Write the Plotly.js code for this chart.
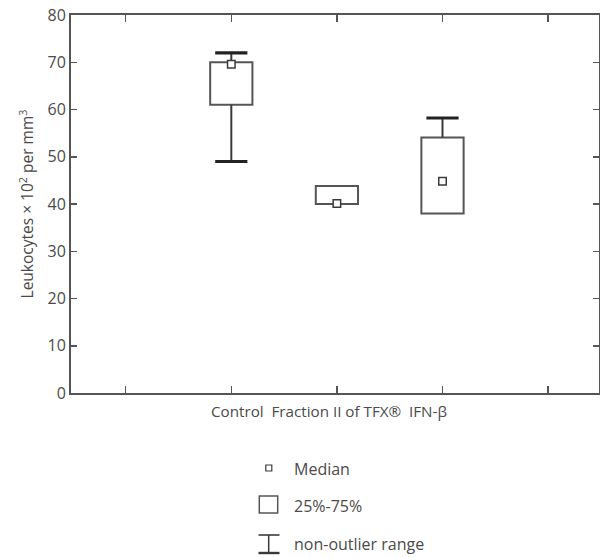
<!DOCTYPE html>
<html>
<head>
<meta charset="utf-8">
<script src="https://cdn.plot.ly/plotly-3.0.1.min.js"></script>
<style>html,body{margin:0;padding:0;background:#fff;}#chart{width:600px;height:558px;}</style>
</head>
<body>
<div id="chart"></div>
<script>
// ---- data ----
var categories = ['Control', 'Fraction II of TFX\u00ae', 'IFN-\u03b2'];
var q1Values = [61, 40, 38];
var medianValues = [69.6, 40.1, 44.8];
var q3Values = [70, 43.8, 54.1];
var lowerValues = [49, 40, 38];
var upperValues = [72, 43.8, 58.2];
var yTickValues = [0, 10, 20, 30, 40, 50, 60, 70, 80];
var legendLabels = ['Median', '25%-75%', 'non-outlier range'];

// ---- build traces ----
var xPos = categories.map(function (c, i) { return i + 1; });
var dark = '#3a3a3a';
var boxColor = '#555555';

var boxTrace = {
  type: 'bar', x: xPos,
  base: q1Values,
  y: q3Values.map(function (v, i) { return v - q1Values[i]; }),
  width: 0.4,
  marker: { color: '#ffffff', line: { color: boxColor, width: 2 } },
  hoverinfo: 'skip', showlegend: false
};

var wx = [], wy = [], cx = [], cy = [];
xPos.forEach(function (x, i) {
  if (upperValues[i] > q3Values[i]) {
    wx.push(x, x, null); wy.push(q3Values[i], upperValues[i], null);
    cx.push(x); cy.push(upperValues[i]);
  }
  if (lowerValues[i] < q1Values[i]) {
    wx.push(x, x, null); wy.push(q1Values[i], lowerValues[i], null);
    cx.push(x); cy.push(lowerValues[i]);
  }
});
var whiskerTrace = {
  type: 'scatter', mode: 'lines', x: wx, y: wy,
  line: { color: dark, width: 2 }, hoverinfo: 'skip', showlegend: false, cliponaxis: false
};
var capTrace = {
  type: 'scatter', mode: 'markers', x: cx, y: cy,
  marker: { symbol: 'line-ew', size: 23, line: { color: '#222', width: 3.2 } },
  hoverinfo: 'skip', showlegend: false, cliponaxis: false
};
var medianTrace = {
  type: 'scatter', mode: 'markers', x: xPos, y: medianValues,
  marker: { symbol: 'square', size: 7.5, color: '#ffffff', line: { color: dark, width: 1.5 } },
  hoverinfo: 'skip', showlegend: false, cliponaxis: false
};

// ---- layout helpers (pixel -> paper coords) ----
var L = 71, T = 15, W = 528, H = 378;
function px(p) { return (p - L) / W; }
function py(p) { return (T + H - p) / H; }

var font = { family: 'Open Sans, Noto Sans, sans-serif', size: 16, color: '#4a4a4a' };
var xLabelFont = { family: font.family, size: 15.2, color: '#4a4a4a' };

var shapes = [
  // legend: median square
  { type: 'rect', xref: 'paper', yref: 'paper', x0: px(265.8), x1: px(271.8), y0: py(471), y1: py(465),
    line: { color: dark, width: 1.2 }, fillcolor: '#fff' },
  // legend: box
  { type: 'rect', xref: 'paper', yref: 'paper', x0: px(259.3), x1: px(277.7), y0: py(513), y1: py(496),
    line: { color: boxColor, width: 1.5 }, fillcolor: '#fff' },
  // legend: whisker
  { type: 'line', xref: 'paper', yref: 'paper', x0: px(268.7), x1: px(268.7), y0: py(535), y1: py(553),
    line: { color: dark, width: 1.5 } },
  { type: 'line', xref: 'paper', yref: 'paper', x0: px(258.5), x1: px(279.5), y0: py(535), y1: py(535),
    line: { color: dark, width: 1.6 } },
  { type: 'line', xref: 'paper', yref: 'paper', x0: px(258.5), x1: px(279.5), y0: py(553), y1: py(553),
    line: { color: dark, width: 2.4 } }
];

var annotations = [
  { xref: 'paper', yref: 'paper', x: px(328.5), y: py(410.5), xanchor: 'center', yanchor: 'middle',
    text: categories.join('\u00a0\u00a0'), showarrow: false, font: xLabelFont },
  { xref: 'paper', yref: 'paper', x: px(291.5), y: py(468.5), xanchor: 'left', yanchor: 'middle',
    text: legendLabels[0], showarrow: false, font: font },
  { xref: 'paper', yref: 'paper', x: px(291.5), y: py(505.5), xanchor: 'left', yanchor: 'middle',
    text: legendLabels[1], showarrow: false, font: font },
  { xref: 'paper', yref: 'paper', x: px(291.5), y: py(543.5), xanchor: 'left', yanchor: 'middle',
    text: legendLabels[2], showarrow: false, font: font }
];

var layout = {
  width: 600, height: 558,
  margin: { l: L, r: 600 - L - W, t: T, b: 558 - T - H, pad: 0 },
  paper_bgcolor: '#fff', plot_bgcolor: '#fff',
  font: font,
  showlegend: false,
  xaxis: {
    range: [-0.518, 4.482], tickvals: [0, 1, 2, 3, 4], showticklabels: false,
    ticks: 'inside', ticklen: 7, tickwidth: 1.5, tickcolor: '#555',
    showline: true, linecolor: '#555', linewidth: 2, mirror: 'ticks',
    showgrid: false, zeroline: false, fixedrange: true
  },
  yaxis: {
    range: [0, 80], tickvals: yTickValues, ticktext: yTickValues.map(String),
    ticks: 'inside', ticklen: 6, tickwidth: 1.5, tickcolor: '#555',
    showline: true, linecolor: '#555', linewidth: 2, mirror: 'ticks',
    showgrid: false, zeroline: false, fixedrange: true,
    tickfont: { family: font.family, size: 16, color: '#4a4a4a' },
    title: { text: 'Leukocytes \u00d7 10<sup>2</sup> per mm<sup>3</sup>', font: { family: font.family, size: 15.5, color: '#4a4a4a' }, standoff: 10 }
  },
  shapes: shapes,
  annotations: annotations
};

Plotly.newPlot('chart', [boxTrace, whiskerTrace, capTrace, medianTrace], layout, { staticPlot: true, displayModeBar: false });
</script>
</body>
</html>
